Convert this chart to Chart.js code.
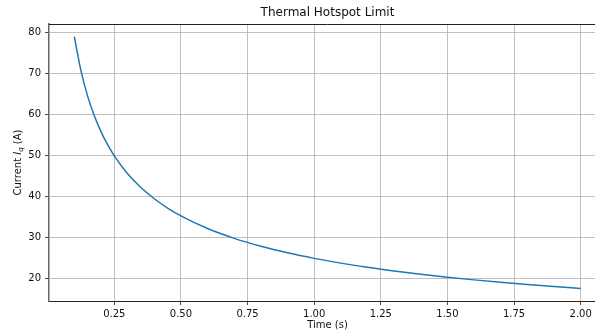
<!DOCTYPE html>
<html>
<head>
<meta charset="utf-8">
<script src="https://cdn.jsdelivr.net/npm/chart.js@4.4.0/dist/chart.umd.min.js"></script>
<style>
html,body{margin:0;padding:0;background:#fff;overflow:hidden;width:595px;height:333px;}
#wrap{position:absolute;left:0;top:0;width:620px;height:333px;}
</style>
</head>
<body>
<div id="wrap"><canvas id="c" width="620" height="333"></canvas></div>
<script>
const timeValues = [0.10,0.125,0.15,0.175,0.20,0.225,0.25,0.30,0.35,0.40,0.45,0.50,0.60,0.70,0.80,0.90,1.00,1.10,1.20,1.30,1.40,1.50,1.60,1.70,1.80,1.90,2.00];
const currentValues = [79.06,70.71,64.55,59.76,55.90,52.70,50.00,45.64,42.26,39.53,37.27,35.36,32.27,29.88,27.95,26.35,25.00,23.84,22.82,21.93,21.13,20.41,19.76,19.17,18.63,18.14,17.68];
const xTickValues = [0.25,0.50,0.75,1.00,1.25,1.50,1.75,2.00];
const yTickValues = [20,30,40,50,60,70,80];
const titleText = "Thermal Hotspot Limit";
const xLabelText = "Time (s)";

const FONT = "'DejaVu Sans', sans-serif";

const textPlugin = {
  id: 'texts',
  afterDraw(chart) {
    const ctx = chart.ctx;
    const a = chart.chartArea;
    const cx = (a.left + a.right) / 2;
    const cy = (a.top + a.bottom) / 2;
    ctx.save();
    // top spine
    ctx.strokeStyle = '#222';
    ctx.lineWidth = 1;
    ctx.beginPath();
    ctx.moveTo(a.left, a.top + 0.5);
    ctx.lineTo(a.right, a.top + 0.5);
    ctx.stroke();
    ctx.fillStyle = '#111';
    ctx.textAlign = 'center';
    ctx.textBaseline = 'middle';
    ctx.font = "12px " + FONT;
    ctx.fillText(titleText, cx, 13);
    ctx.font = "10px " + FONT;
    ctx.fillText(xLabelText, cx, 325);
    // y label with italic subscript
    ctx.translate(18, cy);
    ctx.rotate(-Math.PI / 2);
    ctx.textAlign = 'left';
    const p1 = "Current ", p2 = "I", p3 = "q", p4 = " (A)";
    ctx.font = "10px " + FONT;
    const w1 = ctx.measureText(p1).width;
    const w4 = ctx.measureText(p4).width;
    ctx.font = "italic 10px " + FONT;
    const w2 = ctx.measureText(p2).width;
    ctx.font = "italic 7px " + FONT;
    const w3 = ctx.measureText(p3).width;
    let x = -(w1 + w2 + w3 + w4) / 2;
    ctx.font = "10px " + FONT;
    ctx.fillText(p1, x, 0); x += w1;
    ctx.font = "italic 10px " + FONT;
    ctx.fillText(p2, x, 0); x += w2;
    ctx.font = "italic 7px " + FONT;
    ctx.fillText(p3, x, 3); x += w3;
    ctx.font = "10px " + FONT;
    ctx.fillText(p4, x, 0);
    ctx.restore();
  }
};

new Chart(document.getElementById('c'), {
  type: 'line',
  data: {
    datasets: [{
      data: timeValues.map((t, i) => ({x: t, y: currentValues[i]})),
      borderColor: '#1f77b4',
      borderWidth: 1.5,
      pointRadius: 0,
      cubicInterpolationMode: 'monotone',
      fill: false
    }]
  },
  options: {
    responsive: false,
    animation: false,
    devicePixelRatio: 1,
    layout: {padding: {left: 0, right: 14, top: 24, bottom: 0}},
    plugins: {legend: {display: false}, title: {display: false}, tooltip: {enabled: false}},
    scales: {
      x: {
        type: 'linear',
        min: 0.005, max: 2.095,
        afterBuildTicks: s => { s.ticks = xTickValues.map(v => ({value: v})); },
        afterFit: s => { s.height = 32; },
        grid: {color: '#b0b0b0', lineWidth: 0.8, tickColor: '#222', tickLength: 4, drawOnChartArea: true},
        border: {color: '#222', width: 1},
        ticks: {color: '#111', font: {family: FONT, size: 10}, padding: 3, maxRotation: 0,
          callback: v => v.toFixed(2)}
      },
      y: {
        type: 'linear',
        min: 14.61, max: 82.13,
        afterBuildTicks: s => { s.ticks = yTickValues.map(v => ({value: v})); },
        afterFit: s => { s.width = 49; },
        grid: {color: '#b0b0b0', lineWidth: 0.8, tickColor: '#222', tickLength: 4},
        border: {color: '#666', width: 1.5},
        ticks: {color: '#111', font: {family: FONT, size: 10}, padding: 4,
          callback: v => String(v)}
      }
    }
  },
  plugins: [textPlugin]
});
</script>
</body>
</html>
